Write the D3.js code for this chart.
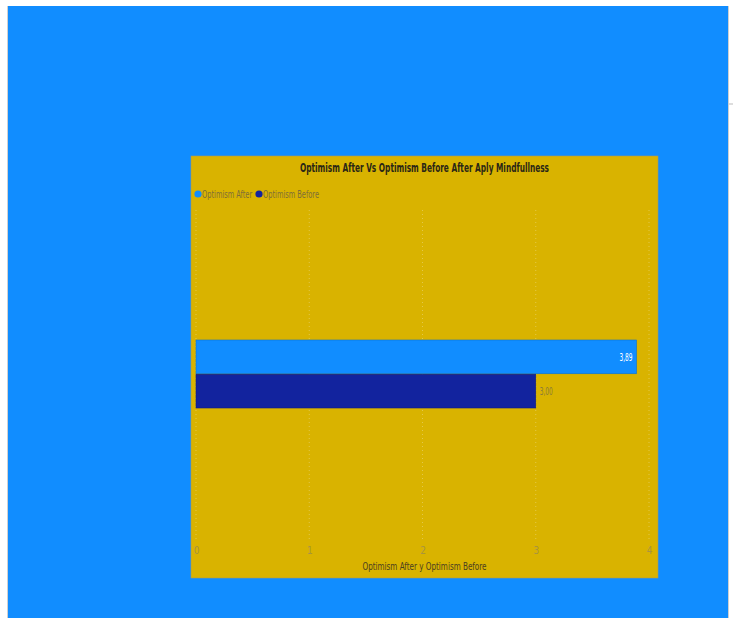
<!DOCTYPE html>
<html><head><meta charset="utf-8">
<script src="https://cdn.jsdelivr.net/npm/d3@7"></script>
<style>html,body{margin:0;padding:0;background:#fff;}svg{display:block;}</style>
</head><body>
<script>
const seriesNames = ["Optimism After", "Optimism Before"];
const seriesValues = [3.89, 3.00];
const valueLabels = ["3,89", "3,00"];
const seriesColors = ["#118DFF", "#12239E"];
const xTicks = [0, 1, 2, 3, 4];
const chartTitle = "Optimism After Vs Optimism Before After Aply Mindfullness";
const axisTitle = "Optimism After y Optimism Before";

const W = 735, H = 618;
const svg = d3.select("body").append("svg").attr("width", W).attr("height", H);
const font = "'DejaVu Sans Condensed','Liberation Sans Narrow',sans-serif";

// outer page background
svg.append("rect").attr("x", 7).attr("y", 6).attr("width", 722).attr("height", 612).attr("fill", "#d0d0d0");
svg.append("rect").attr("x", 8).attr("y", 6).attr("width", 720).attr("height", 612).attr("fill", "#118DFF");
svg.append("line").attr("x1", 729).attr("x2", 733).attr("y1", 104).attr("y2", 104).attr("stroke", "#bbb");

// panel
const px = 191, py = 156, pw = 467, ph = 422;
svg.append("rect").attr("x", px).attr("y", py).attr("width", pw).attr("height", ph)
  .attr("fill", "#D9B300").attr("stroke", "#a89a5a").attr("stroke-width", 0.6);

svg.append("text").attr("x", 424.5).attr("y", 171.5).attr("text-anchor", "middle")
  .attr("font-family", font).attr("font-weight", "bold").attr("font-size", 13)
  .attr("fill", "#2a2616").attr("textLength", 249).attr("lengthAdjust", "spacingAndGlyphs")
  .text(chartTitle);

// legend (horizontally condensed text)
const legendX = [198, 259];
seriesNames.forEach((n, i) => {
  svg.append("circle").attr("cx", legendX[i]).attr("cy", 194).attr("r", 3.6).attr("fill", seriesColors[i]);
  svg.append("text").attr("transform", `translate(${legendX[i] + 4},197.5) scale(0.74,1)`)
    .attr("font-family", font).attr("font-size", 10).attr("fill", "#7d6e38").text(n);
});

// scales
const x = d3.scaleLinear().domain([0, 4]).range([196, 649]);
const y = d3.scaleBand().domain(seriesNames).range([340, 408]).paddingInner(0.015);
const plotTop = 210, plotBottom = 540;

// gridlines
svg.append("g").selectAll("line").data(xTicks).join("line")
  .attr("x1", d => x(d)).attr("x2", d => x(d)).attr("y1", plotTop).attr("y2", plotBottom)
  .attr("stroke", "#e3c94a").attr("stroke-width", 1).attr("stroke-dasharray", "1,3");

// bars
svg.append("g").selectAll("rect").data(seriesValues).join("rect")
  .attr("x", x(0)).attr("y", (d, i) => y(seriesNames[i]))
  .attr("width", d => x(d) - x(0)).attr("height", y.bandwidth())
  .attr("fill", (d, i) => seriesColors[i])
  .attr("stroke", (d, i) => d3.color(seriesColors[i]).darker(0.6)).attr("stroke-width", 0.6);

// value labels
svg.append("text").attr("x", x(seriesValues[0]) - 4).attr("y", y(seriesNames[0]) + y.bandwidth() / 2 + 4)
  .attr("text-anchor", "end").attr("font-family", font).attr("font-size", 10.5).attr("fill", "#ffffff")
  .attr("textLength", 13).attr("lengthAdjust", "spacingAndGlyphs").text(valueLabels[0]);
svg.append("text").attr("x", x(seriesValues[1]) + 4).attr("y", y(seriesNames[1]) + y.bandwidth() / 2 + 4)
  .attr("text-anchor", "start").attr("font-family", font).attr("font-size", 10.5).attr("fill", "#8a7a3a")
  .attr("textLength", 13).attr("lengthAdjust", "spacingAndGlyphs").text(valueLabels[1]);

// x axis
const axis = svg.append("g").attr("transform", "translate(0,544)")
  .call(d3.axisBottom(x).tickValues(xTicks).tickSize(0).tickFormat(d3.format("d")));
axis.select(".domain").remove();
axis.selectAll("text").attr("font-family", font).attr("font-size", 10).attr("fill", "#a8943e");

svg.append("text").attr("x", 424.5).attr("y", 570).attr("text-anchor", "middle")
  .attr("font-family", font).attr("font-size", 11).attr("fill", "#4a4020")
  .attr("textLength", 124).attr("lengthAdjust", "spacingAndGlyphs").text(axisTitle);
</script>
</body></html>
